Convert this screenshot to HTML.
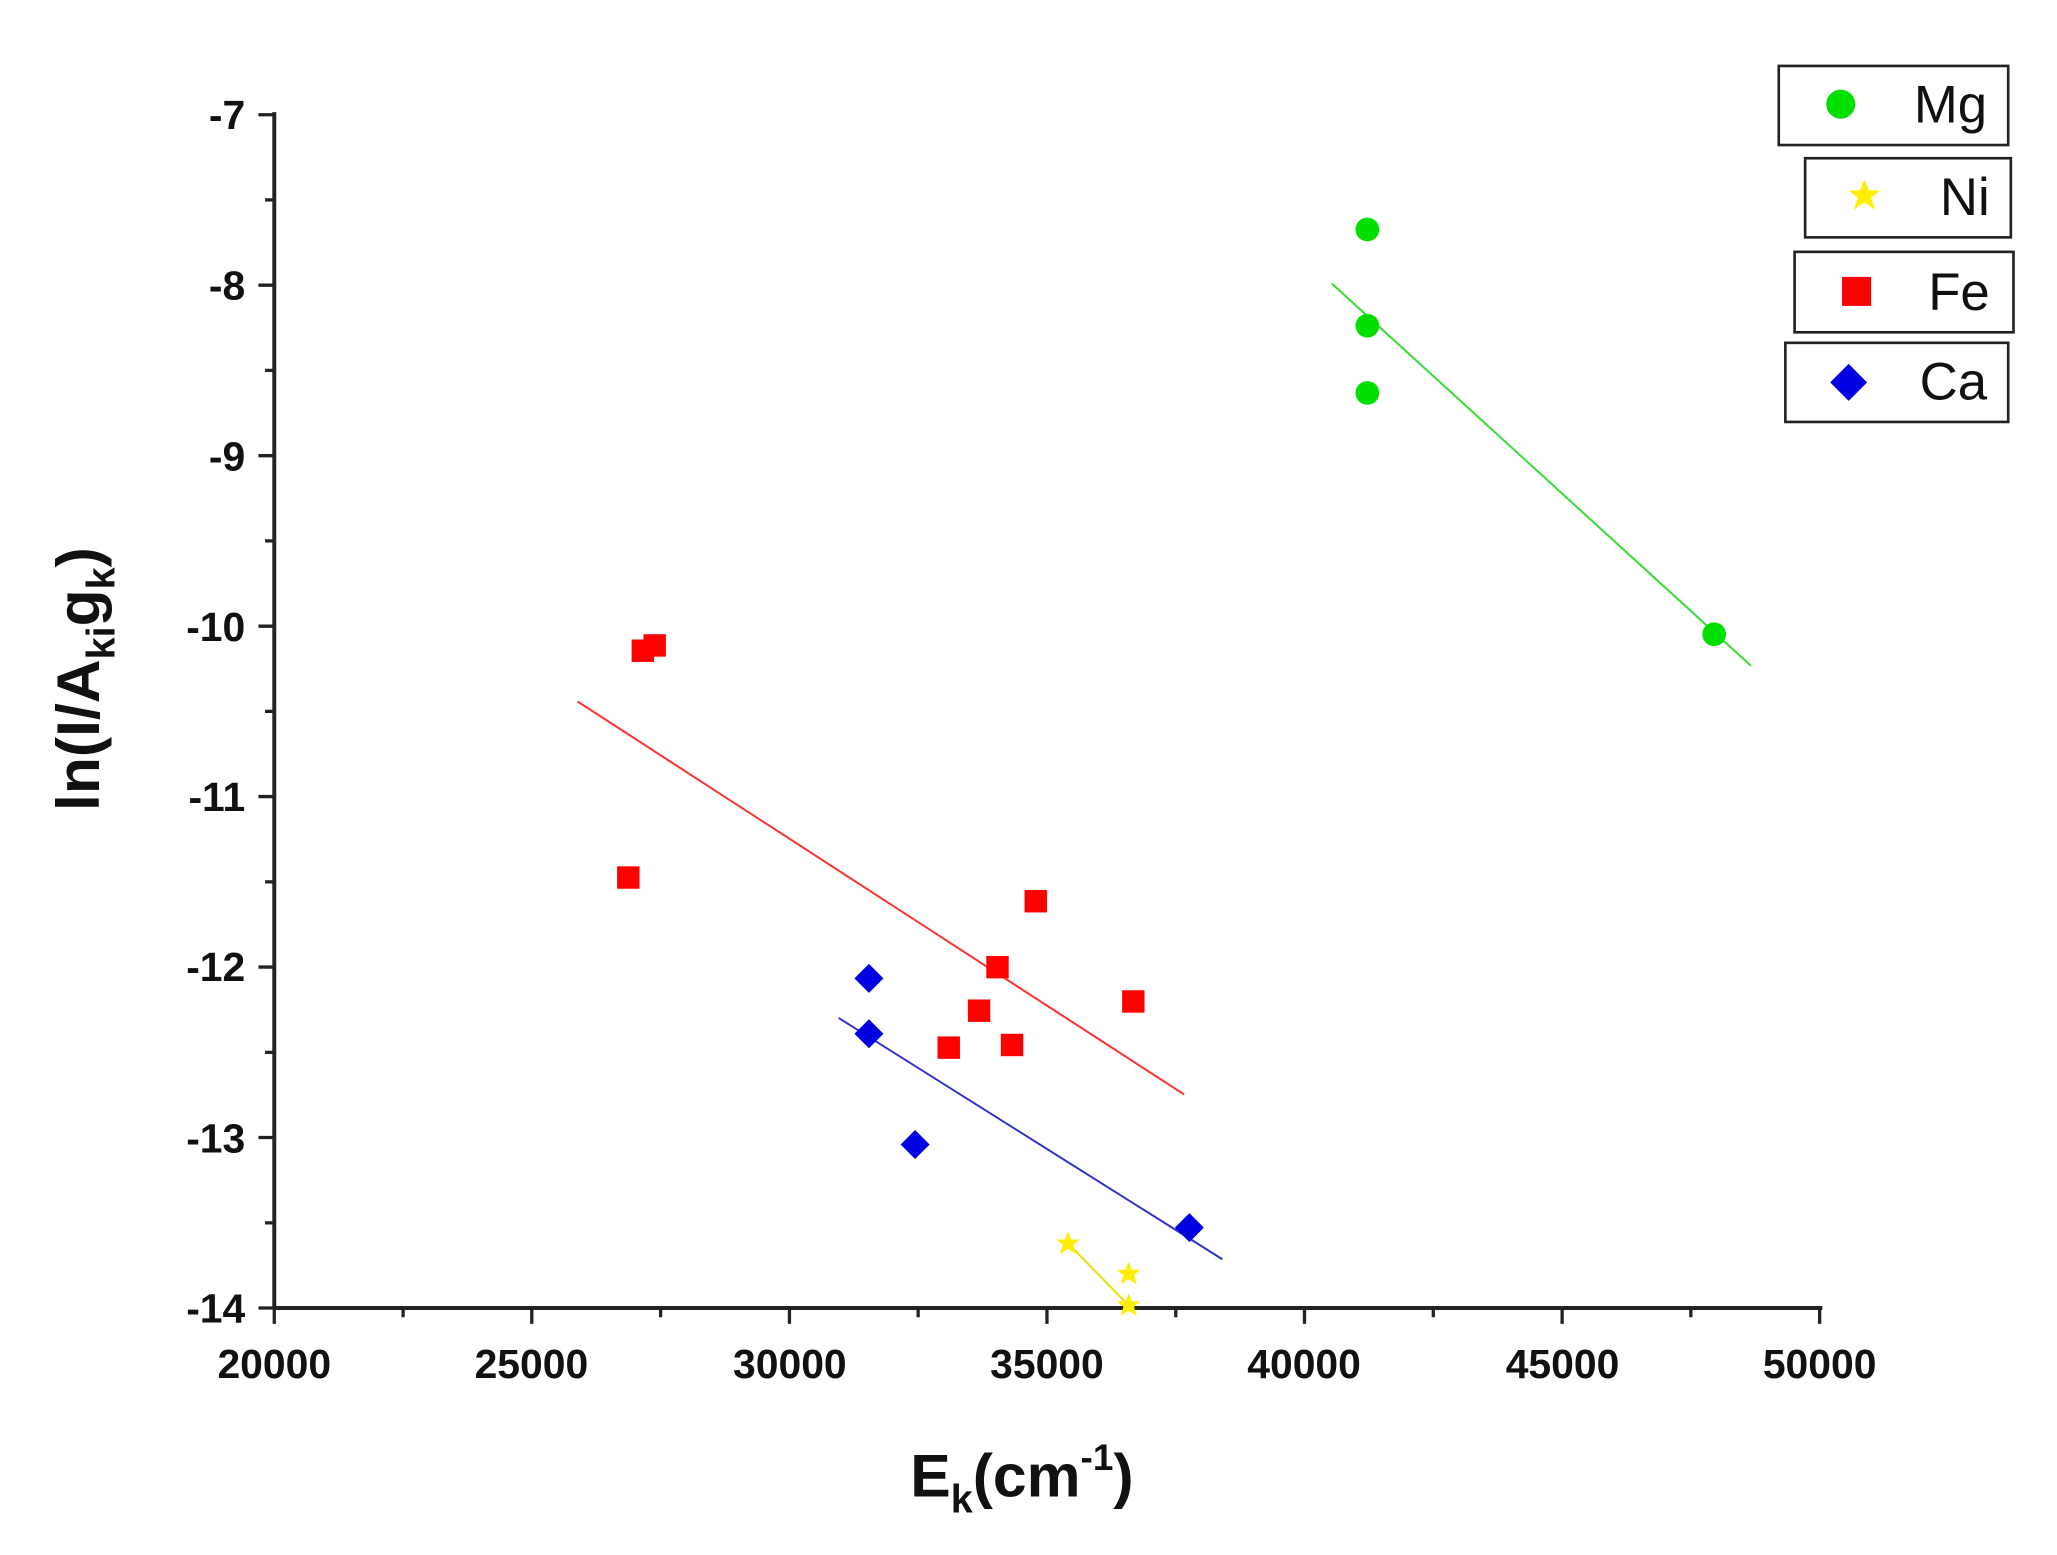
<!DOCTYPE html>
<html><head><meta charset="utf-8"><style>html,body{margin:0;padding:0;background:#fff}svg{display:block}</style></head>
<body>
<svg width="2057" height="1555" viewBox="0 0 1560 1179.3" xmlns="http://www.w3.org/2000/svg" font-family="Liberation Sans, Arial, sans-serif">
<rect width="1560" height="1180" fill="#fff"/>
<g stroke="#222" stroke-width="3" fill="none">
<line x1="208" y1="85" x2="208" y2="993"/>
<line x1="207" y1="992" x2="1382" y2="992"/>
</g>
<g stroke="#222" stroke-width="2.5">
<line x1="196" y1="87" x2="208" y2="87"/><line x1="201" y1="151.6" x2="208" y2="151.6"/>
<line x1="196" y1="216.3" x2="208" y2="216.3"/><line x1="201" y1="280.9" x2="208" y2="280.9"/>
<line x1="196" y1="345.6" x2="208" y2="345.6"/><line x1="201" y1="410.2" x2="208" y2="410.2"/>
<line x1="196" y1="474.9" x2="208" y2="474.9"/><line x1="201" y1="539.5" x2="208" y2="539.5"/>
<line x1="196" y1="604.1" x2="208" y2="604.1"/><line x1="201" y1="668.8" x2="208" y2="668.8"/>
<line x1="196" y1="733.4" x2="208" y2="733.4"/><line x1="201" y1="798.1" x2="208" y2="798.1"/>
<line x1="196" y1="862.7" x2="208" y2="862.7"/><line x1="201" y1="927.4" x2="208" y2="927.4"/>
<line x1="196" y1="992" x2="208" y2="992"/>
<line x1="208" y1="992" x2="208" y2="1004"/><line x1="305.7" y1="992" x2="305.7" y2="999"/>
<line x1="403.3" y1="992" x2="403.3" y2="1004"/><line x1="501" y1="992" x2="501" y2="999"/>
<line x1="598.7" y1="992" x2="598.7" y2="1004"/><line x1="696.3" y1="992" x2="696.3" y2="999"/>
<line x1="794" y1="992" x2="794" y2="1004"/><line x1="891.7" y1="992" x2="891.7" y2="999"/>
<line x1="989.3" y1="992" x2="989.3" y2="1004"/><line x1="1087" y1="992" x2="1087" y2="999"/>
<line x1="1184.7" y1="992" x2="1184.7" y2="1004"/><line x1="1282.3" y1="992" x2="1282.3" y2="999"/>
<line x1="1380" y1="992" x2="1380" y2="1004"/>
</g>
<g font-size="31" font-weight="bold" fill="#111" text-anchor="end">
<text x="186" y="98">-7</text><text x="186" y="227">-8</text><text x="186" y="357">-9</text>
<text x="186" y="486">-10</text><text x="186" y="615">-11</text><text x="186" y="744">-12</text>
<text x="186" y="874">-13</text><text x="186" y="1003">-14</text>
</g>
<g font-size="31" font-weight="bold" fill="#111" text-anchor="middle">
<text x="208" y="1045">20000</text><text x="403" y="1045">25000</text><text x="599" y="1045">30000</text>
<text x="794" y="1045">35000</text><text x="989" y="1045">40000</text><text x="1185" y="1045">45000</text>
<text x="1380" y="1045">50000</text>
</g>
<text x="775" y="1135" font-size="46" font-weight="bold" text-anchor="middle" fill="#111">E<tspan font-size="30" dy="12">k</tspan><tspan dy="-12">(cm</tspan><tspan font-size="28" dy="-20">-1</tspan><tspan dy="20">)</tspan></text>
<text transform="translate(75,515) rotate(-90)" font-size="46" font-weight="bold" text-anchor="middle" fill="#111">ln(I/A<tspan font-size="30" dy="12">ki</tspan><tspan dy="-12">g</tspan><tspan font-size="30" dy="12">k</tspan><tspan dy="-12">)</tspan></text>
<line x1="1010" y1="215" x2="1328" y2="505" stroke="#33dd33" stroke-width="1.5"/>
<line x1="438" y1="532" x2="898" y2="830" stroke="#ff3030" stroke-width="1.5"/>
<line x1="636" y1="772" x2="927" y2="955" stroke="#3030cc" stroke-width="1.5"/>
<line x1="810" y1="943" x2="856" y2="990" stroke="#e8e000" stroke-width="1.5"/>
<g fill="#00e000">
<circle cx="1037" cy="174" r="9"/><circle cx="1037" cy="247" r="9"/><circle cx="1037" cy="298" r="9"/><circle cx="1300" cy="481" r="9"/>
</g>
<g fill="#ff0000">
<rect x="479" y="485" width="17" height="17"/><rect x="488" y="481" width="17" height="17"/><rect x="468" y="657" width="17" height="17"/>
<rect x="777" y="675" width="17" height="17"/><rect x="748" y="725" width="17" height="17"/><rect x="734" y="758" width="17" height="17"/>
<rect x="711" y="786" width="17" height="17"/><rect x="759" y="784" width="17" height="17"/><rect x="851" y="751" width="17" height="17"/>
</g>
<g fill="#0000e0">
<polygon points="659,731 670,742 659,753 648,742"/><polygon points="659,773 670,784 659,795 648,784"/>
<polygon points="694,857 705,868 694,879 683,868"/><polygon points="902,920 913,931 902,942 891,931"/>
</g>
<g fill="#ffee00">
<polygon points="810,934 812.5,940 819,940 814,944 816,951 810,947 804,951 806,944 801,940 807.5,940"/>
<polygon points="856,957 858.5,963 865,963 860,967 862,974 856,970 850,974 852,967 847,963 853.5,963"/>
<polygon points="856,981 858.5,987 865,987 860,991 862,998 856,994 850,998 852,991 847,987 853.5,987"/>
</g>
<g fill="#fff" stroke="#222" stroke-width="2">
<rect x="1349" y="50" width="174" height="60"/>
<rect x="1369" y="120" width="156" height="60"/>
<rect x="1361" y="191" width="166" height="61"/>
<rect x="1354" y="260" width="169" height="60"/>
</g>
<circle cx="1396" cy="79" r="11" fill="#00e000"/>
<polygon points="1414,136 1417.5,144.5 1426,144.5 1419,150 1422,159 1414,153.5 1406,159 1409,150 1402,144.5 1410.5,144.5" fill="#ffee00"/>
<rect x="1397" y="210" width="22" height="22" fill="#ff0000"/>
<polygon points="1402,276 1416,290 1402,304 1388,290" fill="#0000e0"/>
<g font-size="40" fill="#111" text-anchor="end">
<text x="1507" y="93">Mg</text><text x="1509" y="163">Ni</text><text x="1509" y="235">Fe</text><text x="1507" y="303">Ca</text>
</g>
</svg>
</body></html>
